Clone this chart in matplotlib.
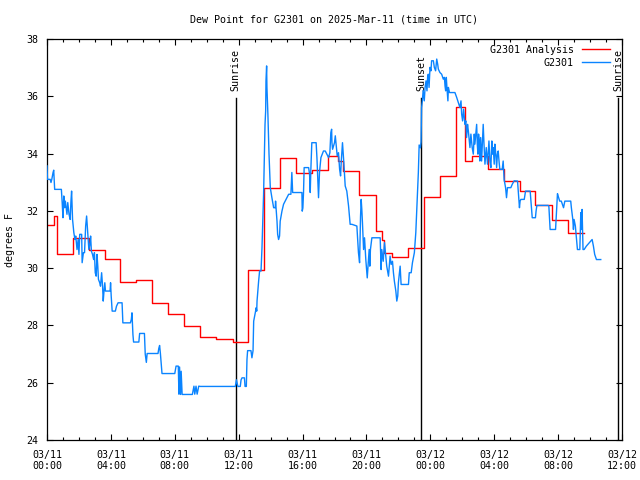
import matplotlib
matplotlib.use('Agg')
import matplotlib.pyplot as plt

# hours since 2025-03-11 00:00 UTC
analysis_hours = [0.0, 0.44, 0.6, 1.6, 2.64, 3.64, 4.6, 5.6, 6.6, 7.6, 8.6, 9.6, 10.55, 11.65,
                  12.6, 13.6, 14.6, 15.6, 16.6, 17.6, 18.2, 18.55, 19.55, 20.6, 21.0, 21.1,
                  21.6, 22.6, 23.6, 24.6, 25.6, 26.2, 26.6, 27.6, 28.6, 29.6, 30.55, 31.6,
                  32.6, 33.6]
analysis_dewpt = [31.49, 31.82, 30.48, 31.04, 30.62, 30.33, 29.52, 29.6, 28.79, 28.4, 27.99,
                  27.61, 27.54, 27.43, 29.93, 32.81, 33.86, 33.31, 33.41, 33.92, 33.73, 33.39,
                  32.55, 31.29, 30.98, 30.54, 30.40, 30.71, 32.50, 33.2, 35.64, 33.74, 33.92,
                  33.45, 33.04, 32.71, 32.22, 31.67, 31.21, 31.21]

obs_hours = [0.0, 0.03, 0.2, 0.25, 0.3, 0.38, 0.42, 0.48, 0.9, 0.95, 1.0, 1.05, 1.1, 1.15, 1.25,
             1.3, 1.38, 1.45, 1.5, 1.54, 1.6, 1.68, 1.75, 1.8, 1.88, 1.95, 2.0, 2.05, 2.17, 2.2,
             2.28, 2.35, 2.42, 2.48, 2.55, 2.62, 2.7, 2.73, 2.78, 2.85, 2.92, 2.97, 3.02, 3.08,
             3.13, 3.18, 3.22, 3.3, 3.35, 3.42, 3.48, 3.52, 3.56, 3.62, 3.66, 3.95, 3.98, 4.02,
             4.08, 4.28, 4.35, 4.45, 4.7, 4.75, 5.22, 5.28, 5.32, 5.38, 5.42, 5.75, 5.8, 6.1,
             6.15, 6.22, 6.27, 6.95, 7.0, 7.05, 7.1, 7.2, 8.0, 8.08, 8.22, 8.26, 8.3, 8.36, 8.4,
             8.46, 9.1, 9.2, 9.25, 9.33, 9.4, 9.5, 9.6, 11.79, 11.86, 11.95,
             12.0, 12.1, 12.15, 12.21, 12.36, 12.4, 12.48, 12.52, 12.56, 12.77, 12.83, 12.9,
             12.94, 13.1, 13.13, 13.15, 13.25, 13.31, 13.4, 13.46, 13.5, 13.56, 13.6, 13.65,
             13.69, 13.71, 13.75, 13.77, 13.83, 13.9, 13.98, 14.08, 14.19, 14.29, 14.31, 14.4,
             14.44, 14.5, 14.56, 14.6, 14.71, 14.81, 15.02, 15.13, 15.27, 15.33, 15.38, 15.4,
             15.65, 15.75, 15.96, 15.98, 16.02, 16.06, 16.1, 16.38, 16.44, 16.48, 16.52, 16.58,
             16.85, 16.9, 17.0, 17.06, 17.15, 17.31, 17.42, 17.52, 17.63,
             17.71, 17.77, 17.82, 17.84, 17.88, 18.0, 18.05, 18.11, 18.17, 18.25, 18.32, 18.38,
             18.42, 18.5, 18.57, 18.63, 18.67, 18.77, 18.88, 18.98, 19.09, 19.4, 19.5, 19.57,
             19.63, 19.67, 19.71, 19.75, 19.82, 19.88, 19.96, 20.05, 20.13, 20.17, 20.21, 20.25,
             20.34, 20.38, 20.86, 20.92, 20.96, 21.05, 21.13, 21.21, 21.27, 21.38, 21.48, 21.55,
             21.63, 21.69, 21.75, 21.84, 21.9, 21.96, 22.0, 22.11, 22.17, 22.63, 22.68, 22.8,
             22.88, 23.0, 23.09, 23.17, 23.25, 23.3, 23.38, 23.42, 23.45, 23.5, 23.55, 23.62,
             23.67, 23.73, 23.79, 23.83, 23.87, 23.92, 23.98, 24.04, 24.08, 24.19, 24.25, 24.33,
             24.4, 24.46, 24.5, 24.6, 24.71, 24.81, 24.88, 24.92, 24.96, 25.0, 25.04, 25.1,
             25.13, 25.2, 25.54, 25.65, 25.75, 25.85, 25.92, 25.96, 26.02, 26.08, 26.17, 26.22,
             26.27, 26.33, 26.38, 26.44, 26.48, 26.54, 26.62, 26.69, 26.75, 26.79, 26.9, 26.94,
             26.98, 27.02, 27.06, 27.1, 27.15, 27.21, 27.31, 27.36, 27.42, 27.5, 27.58, 27.67,
             27.73, 27.79, 27.85, 27.88, 27.94, 28.0, 28.04, 28.1, 28.15, 28.2, 28.25, 28.3,
             28.35, 28.5, 28.56, 28.62, 28.71, 28.77, 28.83, 29.04, 29.13, 29.25,
             29.46, 29.54, 29.58, 29.62, 29.67, 29.88, 29.96, 30.25, 30.38, 30.58, 30.62, 30.67,
             31.38, 31.42, 31.5, 31.84, 31.96, 32.0, 32.1, 32.2, 32.34, 32.42, 32.79, 32.83,
             32.92, 32.96, 33.0, 33.08, 33.21, 33.36, 33.42, 33.46, 33.5, 33.56, 33.63, 33.77,
             34.13, 34.21, 34.29, 34.4, 34.67]
obs_dewpt = [33.57, 33.10, 33.10, 32.99, 33.10, 33.34, 33.42, 32.75, 32.75, 32.29, 31.76, 32.52,
             32.11, 32.34, 31.88, 32.29, 31.88, 31.70, 32.34, 32.69, 31.70, 31.24, 31.00, 31.12,
             30.65, 31.00, 30.48, 31.18, 31.18, 30.19, 30.54, 30.54, 31.47, 31.82, 31.24, 30.65,
             30.89, 31.12, 30.59, 30.48, 30.30, 30.54, 29.84, 29.72, 30.48, 30.07, 29.61, 29.49,
             29.37, 29.84, 29.37, 28.85, 29.14, 29.49, 29.20, 29.20, 29.49, 29.02, 28.50, 28.50,
             28.67, 28.79, 28.79, 28.09, 28.09, 28.21, 28.44, 27.68, 27.42, 27.42, 27.72, 27.72,
             27.0, 26.71, 27.02, 27.02, 27.2, 27.30, 27.02, 26.32, 26.32, 26.58, 26.58, 25.6,
             26.55, 25.59, 26.4, 25.59, 25.59, 25.88, 25.6, 25.88, 25.6, 25.88, 25.87, 25.87,
             26.1, 25.87,
             25.87, 25.87, 26.1, 26.17, 26.17, 25.87, 25.87, 26.81, 27.12, 27.12, 26.87, 27.12,
             28.15, 28.62, 28.50, 28.85, 29.55, 29.90, 29.90, 30.71, 31.41, 32.58, 33.63, 35.02,
             35.49, 36.54, 37.06, 36.31, 35.37, 33.98, 32.81, 32.46, 32.11, 32.11, 32.34, 31.64,
             31.18, 31.0, 31.12, 31.64, 31.99, 32.23, 32.46, 32.58, 32.58, 33.34, 32.64, 32.64,
             32.64, 32.64, 32.64, 31.99, 32.1, 32.64, 33.51, 33.51, 33.28, 32.64, 33.45, 34.38,
             34.38, 33.86, 32.46, 33.34, 33.86, 34.09, 34.09, 33.98, 33.86,
             34.03, 34.73, 34.85, 34.38, 34.15, 34.38, 34.62, 34.27, 33.92, 34.03, 33.45, 33.22,
             33.69, 34.38, 33.80, 33.22, 32.87, 32.69, 32.17, 31.53, 31.53, 31.47, 30.54, 30.19,
             31.8, 32.40, 32.05, 31.59, 30.65, 31.06, 30.3, 29.66, 30.30, 30.65, 30.07, 30.65,
             31.06, 31.06, 31.06, 29.95, 30.65, 30.24, 30.89, 30.42, 30.07, 29.72, 30.42, 30.13,
             30.24, 29.84, 29.54, 29.20, 28.85, 29.03, 29.49, 30.07, 29.43, 29.43, 29.84, 29.84,
             30.19, 30.54, 31.24, 32.29, 33.34, 34.3, 34.2, 34.4, 35.6, 35.84, 36.2, 35.84,
             36.3, 36.54, 36.19, 36.66, 36.77, 36.31, 37.01, 36.89, 37.24, 37.24, 37.01, 36.89,
             37.3, 37.12, 36.95, 36.83, 36.77, 36.60, 36.66, 36.36, 36.19, 36.66, 36.3, 35.84,
             36.31, 36.13, 36.13, 35.96, 35.78, 35.61, 35.84, 35.38, 35.14, 35.55, 35.02, 35.14,
             34.56, 35.02, 34.79, 34.44, 34.21, 34.68, 34.21, 33.98, 34.68, 34.33, 35.02, 34.33,
             33.98, 34.68, 34.44, 33.74, 34.56, 33.74, 35.02, 34.33, 33.63, 34.21, 33.63, 34.44,
             33.74, 33.51, 34.44, 33.98, 34.21, 33.63, 34.33, 33.98, 33.51, 33.98, 34.09, 33.74,
             33.45, 33.45, 33.74, 33.1, 32.81, 32.46, 32.81, 32.81, 32.93, 33.05,
             33.04, 32.4, 32.11, 32.34, 32.4, 32.4, 32.69, 32.69, 31.76, 31.76, 31.99, 32.19,
             32.19, 32.17, 31.35, 31.35, 32.6, 32.52, 32.34, 32.34, 32.11, 32.34, 32.34, 32.11,
             31.7, 31.35, 31.7, 31.47, 30.65, 30.65, 31.94, 31.35, 32.05, 30.65, 30.65, 30.77,
             31.0, 30.77, 30.48, 30.3, 30.3]

sun_events = [('Sunrise', 11.81), ('Sunset', 23.44), ('Sunrise', 35.76)]

tick_hours = [0, 4, 8, 12, 16, 20, 24, 28, 32, 36]
tick_labels = ['03/11\n00:00', '03/11\n04:00', '03/11\n08:00', '03/11\n12:00', '03/11\n16:00',
               '03/11\n20:00', '03/12\n00:00', '03/12\n04:00', '03/12\n08:00', '03/12\n12:00']

plt.rcParams['font.family'] = ['DejaVu Sans Mono']
plt.rcParams['font.size'] = 7.2

fig = plt.figure(figsize=(6.4, 4.8), dpi=100)
ax = fig.add_axes([47 / 640, 40 / 480, 575 / 640, 401 / 480])

for name, hr in sun_events:
    ax.plot([hr, hr], [24, 35.93], color='black', lw=1.0, zorder=1)
    ax.text(hr, 36.17, name, rotation=90, ha='center', va='bottom', clip_on=False)

ax.plot(analysis_hours, analysis_dewpt, drawstyle='steps-post', color='#ff0000', lw=1.0,
        label='G2301 Analysis', zorder=2)
ax.plot(obs_hours, obs_dewpt, color='#0a84ff', lw=1.0, label='G2301', zorder=3)

ax.set_xlim(0, 36)
ax.set_ylim(24, 38)
ax.set_xticks(tick_hours)
ax.set_xticklabels(tick_labels)
ax.set_xticks(range(0, 37), minor=True)
ax.set_yticks(range(24, 39, 2))
ax.tick_params(which='both', direction='in', top=True, right=True, width=0.8)
ax.tick_params(which='major', length=4.5)
ax.tick_params(which='minor', length=2.5)
ax.tick_params(axis='x', which='major', pad=7)
ax.tick_params(axis='y', pad=6)
for s in ax.spines.values():
    s.set_linewidth(0.9)

ax.legend(loc='upper right', bbox_to_anchor=(1 - 3 / 575, 1 + 3 / 401), frameon=False,
          markerfirst=False, handlelength=2.8, handletextpad=0.8, labelspacing=0.3,
          borderaxespad=0.6, borderpad=0.3)

fig.text(334 / 640, 1 - 19 / 480, 'Dew Point for G2301 on 2025-Mar-11 (time in UTC)',
         ha='center', va='center')
fig.text(10 / 640, 1 - 240 / 480, 'degrees F', rotation=90, ha='center', va='center')

fig.savefig('out.png', dpi=100)
